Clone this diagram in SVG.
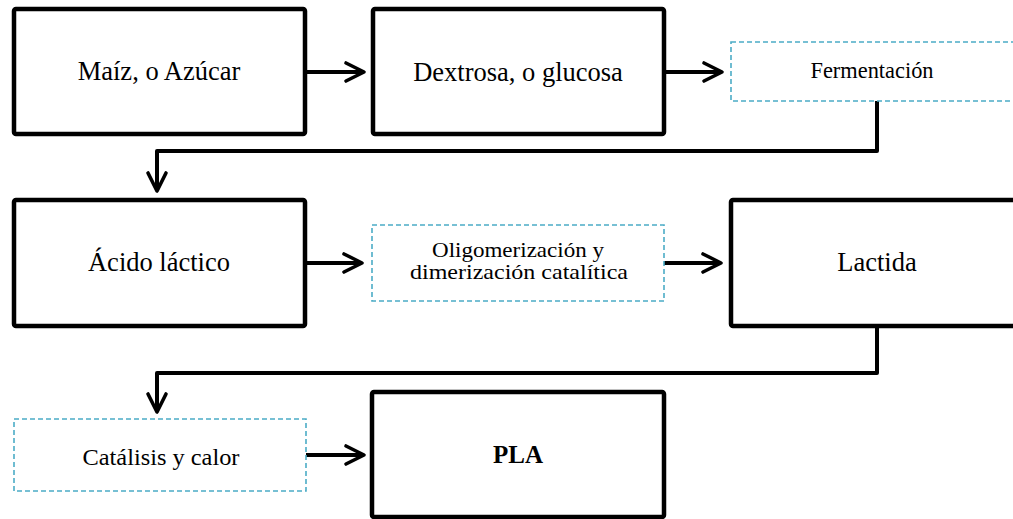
<svg xmlns="http://www.w3.org/2000/svg" width="1013" height="519" viewBox="0 0 1013 519">
<defs>
<style>
.box{fill:#fff;stroke:#000;stroke-width:4.5;stroke-linejoin:round}
.dash{fill:#fff;stroke:#4bacc6;stroke-width:1.6;stroke-dasharray:5 3}
.t{fill:#000;text-anchor:middle;font-family:'Liberation Serif','DejaVu Serif','Times New Roman',serif}
.big{font-size:26.5px}
.small{font-size:24px}
.conn{fill:none;stroke:#000;stroke-width:4;stroke-linejoin:round}
</style>
<marker id="arr" viewBox="0 0 12 12" refX="10.5" refY="6" markerWidth="6" markerHeight="6" markerUnits="strokeWidth" orient="auto">
<path d="M1.5 1.5 L10.5 6 L1.5 10.5" fill="none" stroke="#000" stroke-width="1.8" stroke-linecap="round" stroke-linejoin="round"/>
</marker>
</defs>
<rect width="1013" height="519" fill="#fff"/>
<g id="connectors">
<path class="conn" d="M306 72 H364" marker-end="url(#arr)"/>
<path class="conn" d="M665 72 H722" marker-end="url(#arr)"/>
<path class="conn" d="M877 101 V151 H157 V191" marker-end="url(#arr)"/>
<path class="conn" d="M306 263 H362" marker-end="url(#arr)"/>
<path class="conn" d="M664 263 H721" marker-end="url(#arr)"/>
<path class="conn" d="M877 326 V373 H157 V412" marker-end="url(#arr)"/>
<path class="conn" d="M306 455 H364" marker-end="url(#arr)"/>
</g>
<g id="maiz">
<rect class="box" x="14" y="9" width="291" height="125" rx="2"/>
<text class="t big" x="159" y="80">Maíz, o Azúcar</text>
</g>
<g id="dextrosa">
<rect class="box" x="373" y="9" width="291" height="125" rx="2"/>
<text class="t big" x="518" y="81">Dextrosa, o glucosa</text>
</g>
<g id="fermentacion">
<rect class="dash" x="731" y="42" width="290" height="59"/>
<text class="t small" x="872" y="78" textLength="123" lengthAdjust="spacingAndGlyphs">Fermentación</text>
</g>
<g id="acido">
<rect class="box" x="14" y="200" width="291" height="126" rx="2"/>
<text class="t big" x="159" y="271">Ácido láctico</text>
</g>
<g id="oligo">
<rect class="dash" x="372" y="225" width="292" height="76"/>
<text class="t" font-size="21" x="518" y="257" textLength="172" lengthAdjust="spacingAndGlyphs">Oligomerización y</text>
<text class="t" font-size="21" x="519" y="279" textLength="218" lengthAdjust="spacingAndGlyphs">dimerización catalítica</text>
</g>
<g id="lactida">
<rect class="box" x="731" y="200" width="300" height="126" rx="2"/>
<text class="t big" x="877" y="271">Lactida</text>
</g>
<g id="catalisis">
<rect class="dash" x="14" y="419" width="292" height="72"/>
<text class="t small" x="161" y="465" textLength="157" lengthAdjust="spacingAndGlyphs">Catálisis y calor</text>
</g>
<g id="pla">
<rect class="box" x="372" y="392" width="292" height="125" rx="2"/>
<text class="t" x="518" y="463" font-size="25" font-weight="bold">PLA</text>
</g>
</svg>
